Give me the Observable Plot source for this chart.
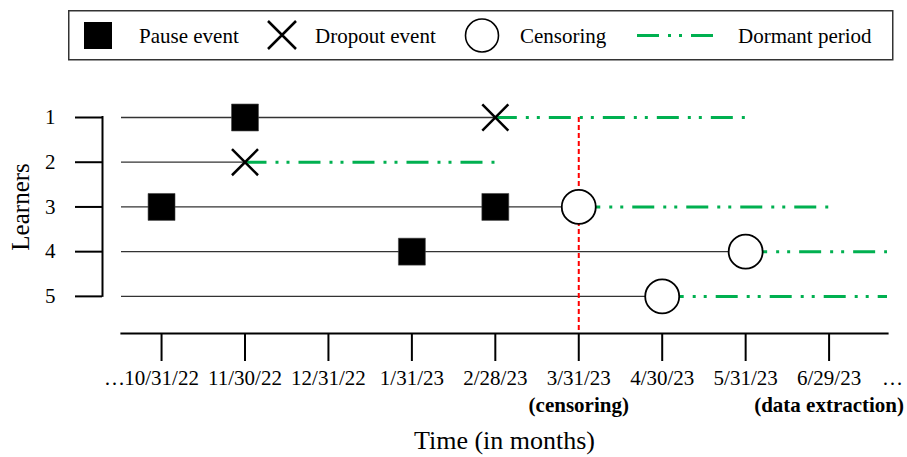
<!DOCTYPE html>
<html><head><meta charset="utf-8">
<script src="https://cdn.jsdelivr.net/npm/d3@7"></script>
<script src="https://cdn.jsdelivr.net/npm/@observablehq/plot@0.6"></script>
<style>
body{margin:0;background:#fff;font-family:"Liberation Serif","Times New Roman",serif;}
#chart{width:907px;height:457px;overflow:hidden;background:#fff}
svg{display:block}
</style></head><body><div id="chart"></div>
<script>
// ---- data ----
const learners = [1, 2, 3, 4, 5];
const tickLabels = ["10/31/22","11/30/22","12/31/22","1/31/23","2/28/23","3/31/23","4/30/23","5/31/23","6/29/23"];
const tickSubLabels = ["","","","","","(censoring)","","","(data extraction)"];
const observedEnd = [4, 1, 5, 7, 6];          // month index where the solid line ends
const dormantEnd = [7, 4, 8, 8.7, 8.7];       // month index where the dormant period ends
const pauseLearner = [1, 3, 3, 4];
const pauseTime = [1, 0, 4, 3];
const dropoutLearner = [1, 2];
const dropoutTime = [4, 1];
const censorLearner = [3, 4, 5];
const censorTime = [5, 7, 6];
const censoringDate = 5;
const legendLabels = ["Pause event", "Dropout event", "Censoring", "Dormant period"];

const xMin = -0.48, xMax = 8.7, yMax = 5.83;
const dormantDash = "22,9,3,8,3,9";
const green = "#00b050";
const FONT = "Liberation Serif";

const rows = learners.map((l, i) => ({learner: l, observedEnd: observedEnd[i], dormantEnd: dormantEnd[i]}));
const pauses = pauseLearner.map((l, i) => ({learner: l, t: pauseTime[i]}));
const dropouts = dropoutLearner.map((l, i) => ({learner: l, t: dropoutTime[i]}));
const censors = censorLearner.map((l, i) => ({learner: l, t: censorTime[i]}));
const tickIdx = tickLabels.map((_, i) => i);

// ---- legend ----
const leg = d3.create("svg").attr("width", 907).attr("height", 70)
  .style("font-family", FONT);
leg.append("rect").attr("x", 68.75).attr("y", 10.75).attr("width", 824).attr("height", 49)
  .attr("fill", "none").attr("stroke", "#333").attr("stroke-width", 1.5);
leg.append("rect").attr("x", 84).attr("y", 22).attr("width", 28).attr("height", 27).attr("fill", "black");
leg.append("path").attr("d", "M268,21L296,49M268,49L296,21").attr("stroke", "black").attr("stroke-width", 2.5).attr("fill", "none");
leg.append("circle").attr("cx", 482).attr("cy", 35.5).attr("r", 16.5).attr("fill", "white").attr("stroke", "black").attr("stroke-width", 1.6);
leg.append("line").attr("x1", 637).attr("x2", 714).attr("y1", 35.5).attr("y2", 35.5)
  .attr("stroke", green).attr("stroke-width", 3).attr("stroke-dasharray", dormantDash);
const legX = [139, 315, 520, 738];
legendLabels.forEach((t, i) => {
  leg.append("text").attr("x", legX[i]).attr("y", 42.5).attr("font-size", 21).attr("fill", "black").text(t);
});
document.getElementById("chart").append(leg.node());

// ---- chart ----
const plot = Plot.plot({
  width: 907, height: 387,
  marginLeft: 121, marginRight: 20, marginTop: 47, marginBottom: 124,
  style: {fontFamily: FONT, fontSize: "21px", color: "black", overflow: "visible", background: "white"},
  x: {domain: [xMin, xMax]},
  y: {domain: [1, yMax], reverse: true},
  marks: [
    Plot.frame({anchor: "bottom", strokeWidth: 2.2}),
    Plot.axisX({ticks: tickIdx, tickFormat: i => tickLabels[i], tickSize: 28, tickPadding: 9, strokeWidth: 2, fontSize: 21, label: null}),
    Plot.axisY({ticks: learners, tickFormat: d => String(d), tickSize: 27, tickPadding: 20, dx: -19, strokeWidth: 2, fontSize: 21, label: null}),
    Plot.ruleX([xMin], {y1: () => 1, y2: () => 5, dx: -19, strokeWidth: 2, strokeLinecap: "square"}),
    Plot.ruleY(rows, {y: "learner", x1: () => xMin, x2: "observedEnd", stroke: "#333", strokeWidth: 1.3}),
    Plot.ruleY(rows, {y: "learner", x1: "observedEnd", x2: "dormantEnd", stroke: green, strokeWidth: 3, strokeDasharray: dormantDash}),
    Plot.ruleX([censoringDate], {y1: () => 1, y2: () => yMax, stroke: "#ff0000", strokeWidth: 2, strokeDasharray: "5,3"}),
    Plot.dot(pauses, {x: "t", y: "learner", symbol: "square", r: 15.2, fill: "black", stroke: "#444", strokeWidth: 0.6}),
    Plot.dot(dropouts, {x: "t", y: "learner", symbol: "times", r: 11.9, stroke: "black", strokeWidth: 2.5}),
    Plot.dot(censors, {x: "t", y: "learner", symbol: "circle", r: 17, fill: "white", stroke: "black", strokeWidth: 1.8}),
    Plot.text([0], {x: d => d, frameAnchor: "bottom", text: () => "…", dy: 37, dx: -47, lineAnchor: "top", fontSize: 21}),
    Plot.text([xMax], {x: d => d, frameAnchor: "bottom", text: () => "…", dy: 37, dx: 5, lineAnchor: "top", fontSize: 21}),
    Plot.text(tickIdx.filter(i => tickSubLabels[i]), {x: d => d, frameAnchor: "bottom", text: i => tickSubLabels[i], dy: 64, lineAnchor: "top", fontSize: 21, fontWeight: "bold"}),
    Plot.text(["Time (in months)"], {frameAnchor: "bottom", text: d => d, dy: 97, lineAnchor: "top", fontSize: 26}),
    Plot.text(["Learners"], {x: () => xMin, y: () => 3, text: d => d, dx: -101, rotate: -90, fontSize: 25})
  ]
});
document.getElementById("chart").append(plot);
</script></body></html>
